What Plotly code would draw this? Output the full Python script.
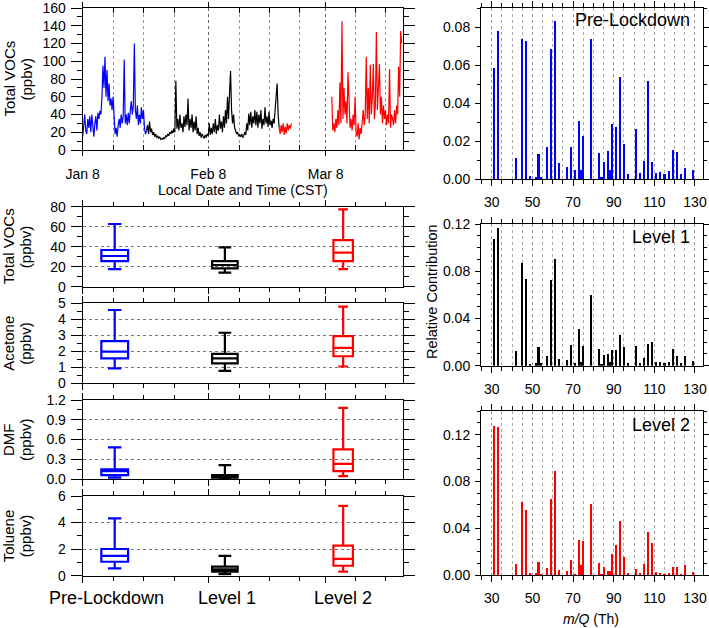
import plotly.graph_objects as go
import pandas as pd

W, H = 709, 628
FONT = "Liberation Sans, Arial, sans-serif"

# ---------------- data ----------------
# Time series of Total VOCs (ppbv) on a regular grid per segment
blue_start, blue_step_h = "2020-01-08 00:00", 6
blue_vals = [15, 30, 40, 22, 18, 35, 25, 38, 20, 40, 28, 15, 30, 38, 22, 42,
             35, 44, 40, 60, 95, 70, 105, 60, 90, 55, 75, 50, 58, 45, 60, 30,
             18, 25, 15, 28, 35, 25, 40, 30, 38, 102, 30, 40, 28, 42, 30, 45,
             55, 40, 50, 120, 45, 35, 50, 28, 40, 30, 48, 35, 45, 25, 18, 22]
black_start, black_step_h = "2020-01-23 18:00", 6
black_vals = [22, 28, 18, 32, 20, 24, 17, 20, 15, 18, 14, 16, 13, 15, 12, 13,
              12, 14, 13, 16, 15, 18, 16, 20, 18, 22, 19, 24, 20, 78, 24, 35,
              22, 40, 25, 30, 20, 38, 26, 40, 28, 58, 22, 35, 25, 40, 20, 32,
              22, 38, 18, 25, 16, 20, 14, 18, 15, 13, 17, 14, 18, 16, 30, 17,
              25, 18, 30, 20, 35, 18, 28, 22, 40, 24, 32, 20, 38, 25, 45, 30,
              60, 35, 64, 89, 45, 30, 40, 25, 22, 18, 20, 16, 17, 15, 18, 14,
              16, 20, 17, 30, 22, 41, 28, 43, 25, 38, 30, 45, 28, 43, 25, 40,
              30, 45, 24, 35, 28, 48, 30, 38, 26, 43, 28, 33, 25, 35, 30, 50,
              65, 75, 40, 25]
red1_start, red1_step_h = "2020-02-25 12:00", 6
red1_vals = [25, 18, 28, 20, 30, 17, 26, 19, 30, 22, 28, 24, 30]
red2_start, red2_step_h = "2020-03-09 12:00", 6
red2_vals = [60, 22, 30, 20, 35, 25, 45, 28, 76, 30, 145, 35, 70, 40, 55, 30,
             88, 40, 25, 35, 22, 40, 28, 60, 20, 15, 30, 12, 25, 18, 35, 45,
             28, 40, 105, 35, 70, 30, 96, 40, 60, 97, 35, 50, 133, 45, 70, 97,
             40, 60, 30, 50, 35, 45, 28, 40, 30, 91, 25, 40, 35, 28, 45, 30,
             50, 40, 94, 60, 134, 120]

# Box-plot statistics (ppbv): Pre-Lockdown, Level 1, Level 2
groups = ["Pre-Lockdown", "Level 1", "Level 2"]
group_colors = ["#0000ff", "#000000", "#ff0000"]
box_pos_days = [7.9, 35.1, 64.3]      # position on the shared day axis
box_widths = [6.6, 6.3, 4.8]

voc_low = [17.5, 14.0, 17.5]
voc_q1 = [25.5, 18.3, 25.5]
voc_med = [30.7, 21.7, 34.0]
voc_q3 = [36.7, 25.5, 46.5]
voc_high = [62.7, 39.3, 77.3]

ace_low = [0.93, 0.78, 1.05]
ace_q1 = [1.56, 1.24, 1.69]
ace_med = [1.98, 1.56, 2.22]
ace_q3 = [2.64, 1.84, 2.95]
ace_high = [4.58, 3.16, 4.79]

dmf_low = [0.02, 0.005, 0.045]
dmf_q1 = [0.06, 0.02, 0.12]
dmf_med = [0.12, 0.04, 0.23]
dmf_q3 = [0.147, 0.06, 0.45]
dmf_high = [0.48, 0.21, 1.08]

tol_low = [0.55, 0.12, 0.30]
tol_q1 = [1.05, 0.30, 0.75]
tol_med = [1.50, 0.48, 1.26]
tol_q3 = [2.01, 0.68, 2.26]
tol_high = [4.32, 1.50, 5.25]

# Mass spectra (relative contribution) by m/Q
mz = [31, 33, 42, 45, 47, 49, 52, 53, 54, 57, 59, 61, 63, 67, 69, 71, 73, 74, 75,
      79, 83, 84, 85, 87, 88, 89, 91, 93, 95, 97, 101, 103, 105, 107, 109, 111,
      113, 115, 117, 119, 121, 123, 125, 129]
pre_contrib = [0.0584, 0.0781, 0.0111, 0.0737, 0.0728, 0.0016, 0.0010, 0.0130, 0.0010,
               0.0165, 0.0684, 0.0833, 0.0084, 0.0060, 0.0165, 0.0046, 0.0306, 0.0046,
               0.0223, 0.0737, 0.0137, 0.0010, 0.0088, 0.0146, 0.0046, 0.0288, 0.0271,
               0.0535, 0.0181, 0.0026, 0.0264, 0.0032, 0.0093, 0.0513, 0.0088, 0.0030,
               0.0035, 0.0026, 0.0039, 0.0151, 0.0141, 0.0026, 0.0056, 0.0046]
lvl1_contrib = [0.1073, 0.1169, 0.0124, 0.0870, 0.0737, 0.0014, 0.0020, 0.0158, 0.0020,
                0.0082, 0.0723, 0.0906, 0.0054, 0.0048, 0.0178, 0.0020, 0.0308, 0.0028,
                0.0164, 0.0596, 0.0138, 0.0014, 0.0088, 0.0099, 0.0028, 0.0136, 0.0133,
                0.0257, 0.0155, 0.0025, 0.0164, 0.0020, 0.0062, 0.0181, 0.0203, 0.0031,
                0.0031, 0.0023, 0.0028, 0.0138, 0.0082, 0.0023, 0.0085, 0.0040]
lvl2_contrib = [0.1280, 0.1269, 0.0094, 0.0629, 0.0560, 0.0017, 0.0017, 0.0117, 0.0010,
                0.0060, 0.0649, 0.0889, 0.0046, 0.0040, 0.0131, 0.0009, 0.0306, 0.0089,
                0.0297, 0.0614, 0.0106, 0.0014, 0.0069, 0.0040, 0.0040, 0.0180, 0.0257,
                0.0466, 0.0157, 0.0017, 0.0054, 0.0017, 0.0100, 0.0369, 0.0274, 0.0026,
                0.0023, 0.0014, 0.0023, 0.0071, 0.0069, 0.0014, 0.0086, 0.0029]

# Axis ticks
date_ticks = ["2020-01-08", "2020-02-08", "2020-03-08"]
date_ticktext = ["Jan 8", "Feb 8", "Mar 8"]
major_days = [0, 31, 60]
minor_days = [7.6, 15.0, 22.6, 38.6, 46.0, 53.4, 67.4, 74.8]
t0 = pd.Timestamp("2020-01-08")
minor_dates = [(t0 + pd.Timedelta(days=d)).strftime("%Y-%m-%d %H:%M") for d in minor_days]


def times(start, step_h, n):
    return pd.date_range(start=start, periods=n, freq=f"{step_h}h")


# ---------------- helpers for placement ----------------
def fx(px):
    return px / W


def fy(py):
    return 1 - py / H


LEFT_X = [fx(82.7), fx(402.7)]
RIGHT_X = [fx(481), fx(702.7)]

fig = go.Figure()

# ---- time series ----
for start, step, vals, col in [(blue_start, blue_step_h, blue_vals, "#0000ff"),
                               (black_start, black_step_h, black_vals, "#000000"),
                               (red1_start, red1_step_h, red1_vals, "#ff0000"),
                               (red2_start, red2_step_h, red2_vals, "#ff0000")]:
    fig.add_trace(go.Scatter(x=times(start, step, len(vals)), y=vals, mode="lines",
                             line=dict(color=col, width=1.2), showlegend=False,
                             xaxis="x", yaxis="y", hoverinfo="skip"))

# ---- box plots ----
box_sets = [
    (voc_low, voc_q1, voc_med, voc_q3, voc_high, "x2", "y2"),
    (ace_low, ace_q1, ace_med, ace_q3, ace_high, "x3", "y3"),
    (dmf_low, dmf_q1, dmf_med, dmf_q3, dmf_high, "x4", "y4"),
    (tol_low, tol_q1, tol_med, tol_q3, tol_high, "x5", "y5"),
]
for low, q1, med, q3, high, xa, ya in box_sets:
    for i in range(3):
        fig.add_trace(go.Box(x=[box_pos_days[i]], q1=[q1[i]], median=[med[i]], q3=[q3[i]],
                             lowerfence=[low[i]], upperfence=[high[i]],
                             width=box_widths[i], whiskerwidth=0.5,
                             line=dict(color=group_colors[i], width=2.2),
                             fillcolor="rgba(255,255,255,0)", boxpoints=False,
                             showlegend=False, hoverinfo="skip", xaxis=xa, yaxis=ya))

# ---- bar charts ----
for vals, col, xa, ya in [(pre_contrib, "#0000ff", "x6", "y6"),
                          (lvl1_contrib, "#000000", "x7", "y7"),
                          (lvl2_contrib, "#ff0000", "x8", "y8")]:
    fig.add_trace(go.Bar(x=mz, y=vals, width=1.0, marker=dict(color=col, line=dict(width=0)),
                         showlegend=False, hoverinfo="skip", xaxis=xa, yaxis=ya))

tickfont = dict(family=FONT, size=14, color="black")
frame = dict(showline=True, linecolor="black", linewidth=1, mirror="ticks",
             zeroline=False, tickcolor="black", tickfont=tickfont, automargin=False,
             ticklabeloverflow="allow")

# time-series axes
fig.update_layout(
    xaxis=dict(domain=LEFT_X, anchor="y", type="date",
               range=["2020-01-08", "2020-03-27"],
               tickmode="array", tickvals=date_ticks, ticktext=date_ticktext,
               ticks="outside", ticklen=5, ticklabelstandoff=6,
               showgrid=True, gridcolor="#666", griddash="dot", gridwidth=1,
               minor=dict(tickmode="array", tickvals=minor_dates, ticks="inside", ticklen=5,
                          showgrid=True, gridcolor="#999", griddash="dot"),
               **frame),
    yaxis=dict(domain=[fy(150), fy(8)], anchor="x", range=[0, 160], dtick=20,
               ticks="outside", ticklen=11, ticklabelstandoff=2, showgrid=False,
               minor=dict(dtick=10, ticks="outside", ticklen=5, showgrid=False),
               **frame),
)

box_y = [
    ("2", [fy(286.7), fy(206.7)], [0, 80], 20, 10, None),
    ("3", [fy(383.3), fy(303.3)], [0, 5], 1, 0.5, None),
    ("4", [fy(479), fy(400)], [0, 1.2], 0.3, 0.15, ".1f"),
    ("5", [fy(575.7), fy(496)], [0, 6], 2, 1, None),
]
for n, dom, rng, dt, mdt, fmt in box_y:
    fig.update_layout(**{
        f"xaxis{n}": dict(domain=LEFT_X, anchor=f"y{n}", type="linear", range=[0, 79],
                          tickmode="array", tickvals=major_days, showticklabels=False,
                          ticks="outside", ticklen=6, showgrid=False,
                          minor=dict(tickmode="array", tickvals=minor_days, ticks="outside",
                                     ticklen=4, showgrid=False),
                          **frame),
        f"yaxis{n}": dict(domain=dom, anchor=f"x{n}", range=rng, dtick=dt, tick0=0,
                          tickformat=fmt, ticks="outside", ticklen=11, ticklabelstandoff=2,
                          showgrid=True, gridcolor="#777", griddash="dot", gridwidth=1,
                          minor=dict(dtick=mdt, ticks="outside", ticklen=5, showgrid=False),
                          **frame),
    })

bar_y = [
    ("6", [fy(179), fy(8.3)], [0, 0.09], 0.02),
    ("7", [fy(365.7), fy(224)], [0, 0.12], 0.04),
    ("8", [fy(575), fy(410.7)], [0, 0.1405], 0.04),
]
for n, dom, rng, dt in bar_y:
    fig.update_layout(**{
        f"xaxis{n}": dict(domain=RIGHT_X, anchor=f"y{n}", type="linear", range=[24.7, 133.8],
                          tick0=30, dtick=20, ticks="outside", ticklen=6, ticklabelstandoff=4,
                          showgrid=True, gridcolor="#999", griddash="dot", gridwidth=1,
                          minor=dict(tick0=30, dtick=5, ticks="outside", ticklen=4,
                                     showgrid=True, gridcolor="#aaa", griddash="dot"),
                          **frame),
        f"yaxis{n}": dict(domain=dom, anchor=f"x{n}", range=rng, tick0=0, dtick=dt,
                          tickformat=".2f", ticks="outside", ticklen=5, ticklabelstandoff=2,
                          showgrid=False,
                          minor=dict(dtick=0.01, ticks="outside", ticklen=3, showgrid=False),
                          **frame),
    })

annots = []


def add_text(text, px, py, size=14, angle=0, xanchor="center"):
    annots.append(dict(text=text, x=fx(px), y=fy(py), xref="paper", yref="paper",
                       showarrow=False, textangle=angle, xanchor=xanchor, yanchor="middle",
                       font=dict(family=FONT, size=size, color="black")))


# y titles on the left
for line1, cy in [("Total VOCs", 79), ("Total VOCs", 246.7), ("Acetone", 343.3),
                  ("DMF", 439.5), ("Toluene", 535.8)]:
    add_text(line1, 8.5, cy, size=15, angle=-90)
    add_text("(ppbv)", 25.5, cy, size=15, angle=-90)

add_text("Local Date and Time (CST)", 242.7, 190, size=14)
for g, px in zip(groups, [107, 227, 343]):
    add_text(g, px, 598, size=18)

add_text("Pre-Lockdown", 692, 20, size=18, xanchor="right")
add_text("Level 1", 692, 237, size=18, xanchor="right")
add_text("Level 2", 692, 425, size=18, xanchor="right")
add_text("Relative Contribution", 432, 292, size=14.5, angle=-90)
add_text("<i>m/Q</i> (Th)", 591, 619, size=14)

fig.update_layout(
    width=W, height=H, autosize=False,
    margin=dict(l=0, r=0, t=0, b=0, pad=0, autoexpand=False),
    paper_bgcolor="white", plot_bgcolor="white",
    font=dict(family=FONT, size=14, color="black"),
    annotations=annots, bargap=0, showlegend=False,
)

# remove the browser's default page margin so the figure sits at the window origin
fig.write_html("out.html", config={"displayModeBar": False},
               post_script="document.body.style.margin='0';")
